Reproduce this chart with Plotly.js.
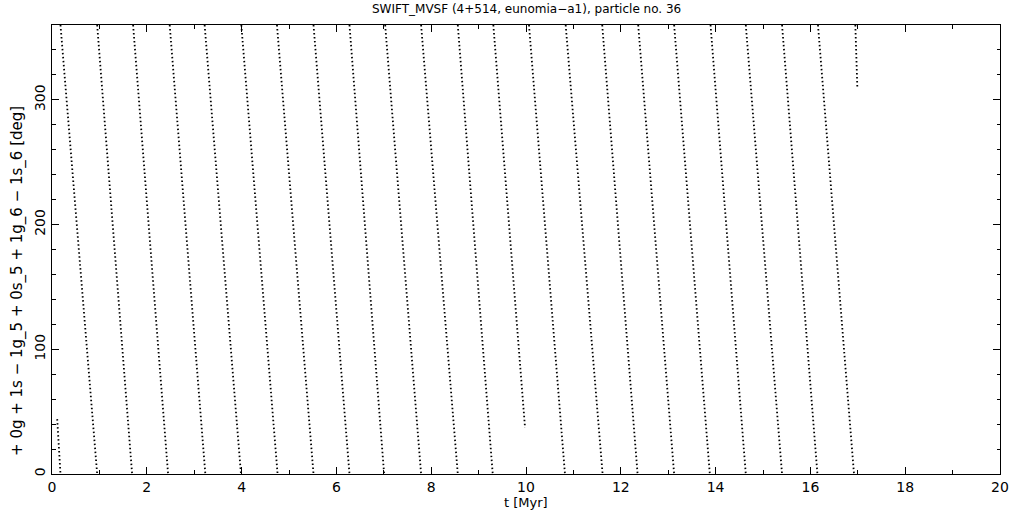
<!DOCTYPE html>
<html>
<head>
<meta charset="utf-8">
<script src="https://cdn.plot.ly/plotly-3.0.1.min.js"></script>
<style>
html,body{margin:0;padding:0;background:#fff;}
#chart{width:1021px;height:511px;}
</style>
</head>
<body>
<div id="chart"></div>
<script>
// Each descending strand of the resonant angle: start (time, angle) -> end (time, angle)
var startT     = [0.11, 0.179, 0.953, 1.711, 2.483, 3.220, 3.994, 4.746, 5.517, 6.276, 7.029, 7.787, 8.561, 9.311, 10.063, 10.837, 11.608, 12.367, 13.125, 13.893, 14.637, 15.402, 16.160, 16.948];
var startAngle = [44, 360, 360, 360, 360, 360, 360, 360, 360, 360, 360, 360, 360, 360, 360, 360, 360, 360, 360, 360, 360, 360, 360, 360];
var endT       = [0.179, 0.953, 1.690, 2.449, 3.235, 3.987, 4.759, 5.517, 6.276, 7.007, 7.787, 8.561, 9.298, 9.98, 10.822, 11.616, 12.354, 13.125, 13.878, 14.637, 15.402, 16.148, 16.920, 16.99];
var endAngle   = [0, 0, 0, 0, 0, 0, 0, 0, 0, 0, 0, 0, 0, 37, 0, 0, 0, 0, 0, 0, 0, 0, 0, 310];

var titleText = "SWIFT_MVSF (4+514, eunomia\u2212a1), particle no. 36";
var xTitle = "t [Myr]";
var yTitle = "+ 0g + 1s \u2212 1g_5 + 0s_5 + 1g_6 \u2212 1s_6 [deg]";

var xs = [], ys = [];
for (var i = 0; i < startT.length; i++) {
  xs.push(startT[i], endT[i], null);
  ys.push(startAngle[i], endAngle[i], null);
}

var trace = {
  x: xs, y: ys, type: 'scatter', mode: 'lines',
  line: {color: '#000', width: 1.8, dash: '1.5px,2.5px'},
  connectgaps: false, hoverinfo: 'skip'
};

var fam = 'DejaVu Sans, Liberation Sans, sans-serif';

var layout = {
  width: 1021, height: 511,
  paper_bgcolor: '#fff', plot_bgcolor: '#fff',
  margin: {l: 52, r: 21, t: 25, b: 37, pad: 0},
  showlegend: false,
  xaxis: {
    range: [0, 20], dtick: 2, tick0: 0,
    ticks: 'inside', ticklen: 7, tickwidth: 1, tickcolor: '#000',
    minor: {dtick: 1, ticks: 'inside', ticklen: 4, tickcolor: '#000', showgrid: false},
    showline: true, linecolor: '#000', linewidth: 1, mirror: 'ticks',
    showgrid: false, zeroline: false,
    tickfont: {family: fam, size: 14, color: '#000'}
  },
  yaxis: {
    range: [0, 360], dtick: 100, tick0: 0,
    ticks: 'inside', ticklen: 7, tickwidth: 1, tickcolor: '#000',
    minor: {dtick: 20, ticks: 'inside', ticklen: 3.5, tickcolor: '#000', showgrid: false},
    showline: true, linecolor: '#000', linewidth: 1, mirror: 'ticks',
    showgrid: false, zeroline: false, tickangle: -90,
    tickfont: {family: fam, size: 14, color: '#000'}
  },
  annotations: [
    {text: titleText, xref: 'paper', yref: 'paper', x: 0.5, y: 1, yshift: 16,
     xanchor: 'center', yanchor: 'middle', showarrow: false,
     font: {family: fam, size: 12, color: '#000'}},
    {text: xTitle, xref: 'paper', yref: 'paper', x: 0.5, y: 0, yshift: -28,
     xanchor: 'center', yanchor: 'middle', showarrow: false,
     font: {family: fam, size: 13, color: '#000'}},
    {text: yTitle, xref: 'paper', yref: 'paper', x: 0, xshift: -34, y: 0.43,
     xanchor: 'center', yanchor: 'middle', showarrow: false, textangle: -90,
     font: {family: fam, size: 15, color: '#000'}}
  ]
};

Plotly.newPlot('chart', [trace], layout, {staticPlot: true, displayModeBar: false});
</script>
</body>
</html>
